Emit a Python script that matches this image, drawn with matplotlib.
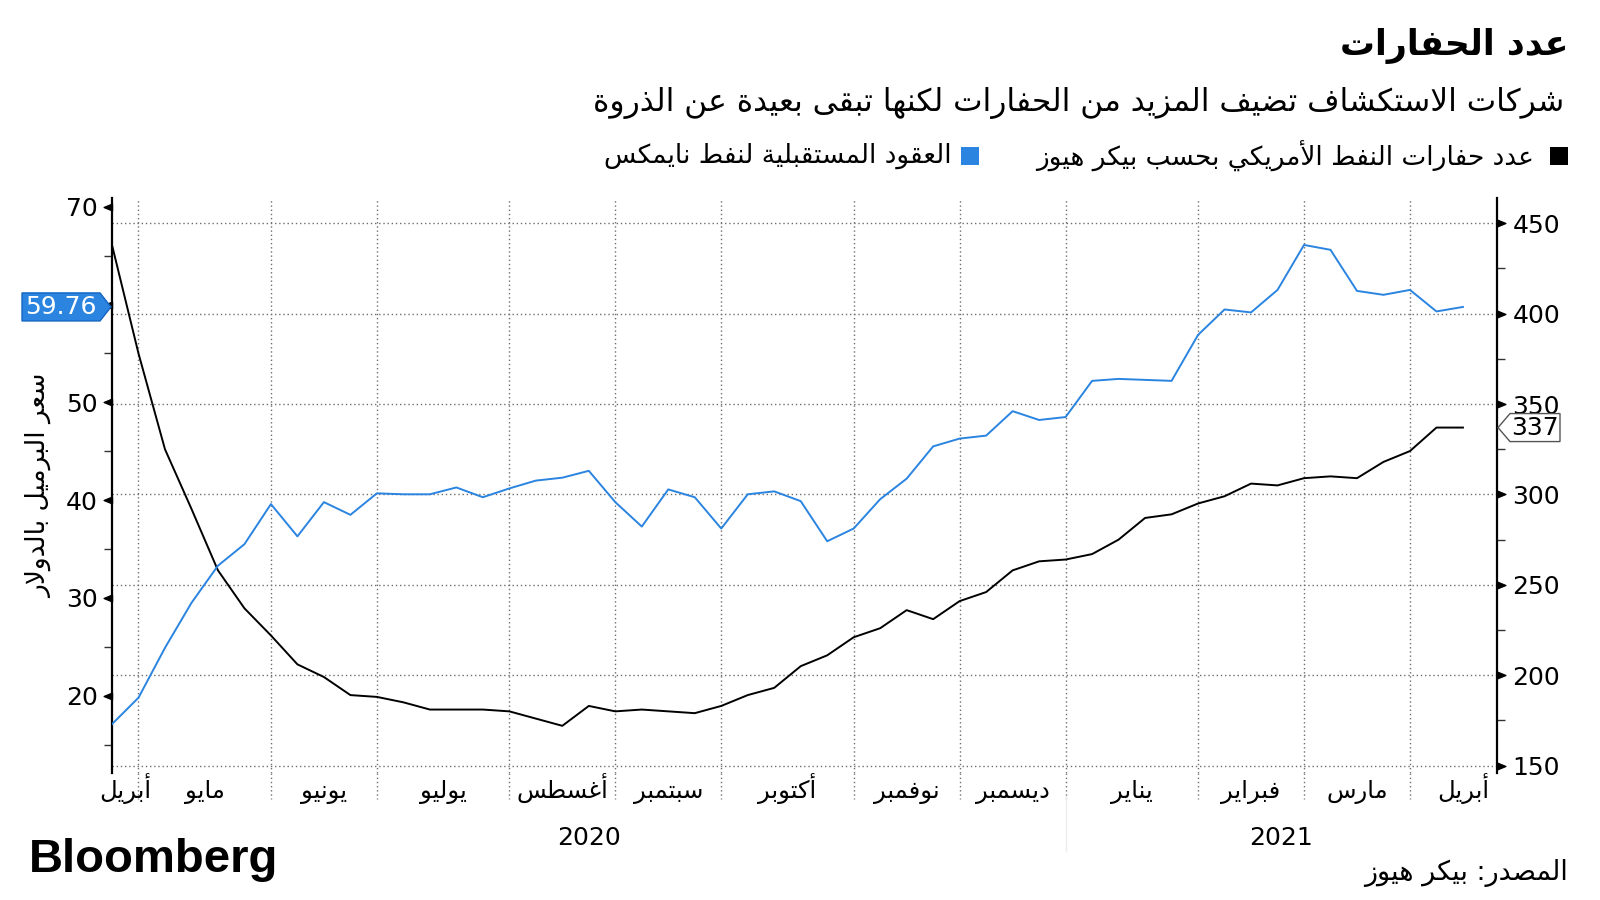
import numpy as np
import pandas as pd
import matplotlib
matplotlib.use('Agg')
import matplotlib.pyplot as plt
from matplotlib.patches import Polygon, Rectangle
from matplotlib.path import Path
from matplotlib.transforms import IdentityTransform, blended_transform_factory

# ---- minimal arabic shaping (presentation forms + reversed for display) ----
AR = {'ء': [0xFE80]}
for ch, b in [('ا', 0xFE8D), ('آ', 0xFE81), ('أ', 0xFE83), ('إ', 0xFE87), ('ؤ', 0xFE85),
              ('د', 0xFEA9), ('ذ', 0xFEAB), ('ر', 0xFEAD), ('ز', 0xFEAF), ('و', 0xFEED),
              ('ة', 0xFE93), ('ى', 0xFEEF)]:
    AR[ch] = [b, b + 1]
for ch, b in [('ب', 0xFE8F), ('ت', 0xFE95), ('ث', 0xFE99), ('ج', 0xFE9D), ('ح', 0xFEA1),
              ('خ', 0xFEA5), ('س', 0xFEB1), ('ش', 0xFEB5), ('ص', 0xFEB9), ('ض', 0xFEBD),
              ('ط', 0xFEC1), ('ظ', 0xFEC5), ('ع', 0xFEC9), ('غ', 0xFECD), ('ف', 0xFED1),
              ('ق', 0xFED5), ('ك', 0xFED9), ('ل', 0xFEDD), ('م', 0xFEE1), ('ن', 0xFEE5),
              ('ه', 0xFEE9), ('ي', 0xFEF1), ('ئ', 0xFE89)]:
    AR[ch] = [b, b + 1, b + 2, b + 3]
LAM_ALEF = {'آ': 0xFEF5, 'أ': 0xFEF7, 'إ': 0xFEF9, 'ا': 0xFEFB}


def ar(text):
    out = []
    i = 0
    n = len(text)
    while i < n:
        c = text[i]
        if c not in AR:
            out.append(c)
            i += 1
            continue
        prev = text[i - 1] if i > 0 else ''
        nxt = text[i + 1] if i + 1 < n else ''
        lp = prev in AR and len(AR[prev]) == 4
        if c == 'ل' and nxt in LAM_ALEF:
            out.append(chr(LAM_ALEF[nxt] + (1 if lp else 0)))
            i += 2
            continue
        forms = AR[c]
        ln = len(forms) == 4 and nxt in AR and nxt != 'ء'
        if len(forms) == 4:
            k = 3 if (lp and ln) else 1 if lp else 2 if ln else 0
        elif len(forms) == 2:
            k = 1 if lp else 0
        else:
            k = 0
        out.append(chr(forms[k]))
        i += 1
    return ''.join(reversed(out))


# ---- data ----
dates = pd.date_range('2020-04-17', periods=52, freq='W-FRI')
rigs = [438, 378, 325, 292, 258, 237, 222, 206, 199, 189,
        188, 185, 181, 181, 181, 180, 176, 172, 183, 180,
        181, 180, 179, 183, 189, 193, 205, 211, 221, 226,
        236, 231, 241, 246, 258, 263, 264, 267, 275, 287,
        289, 295, 299, 306, 305, 309, 310, 309, 318, 324,
        337, 337]
wti = [17.1, 19.8, 24.9, 29.5, 33.3, 35.5, 39.6, 36.3, 39.8, 38.5,
       40.7, 40.6, 40.6, 41.3, 40.3, 41.2, 42.0, 42.3, 43.0, 39.8,
       37.3, 41.1, 40.3, 37.1, 40.6, 40.9, 39.9, 35.8, 37.1, 40.1,
       42.2, 45.5, 46.3, 46.6, 49.1, 48.2, 48.5, 52.2, 52.4, 52.3,
       52.2, 56.9, 59.5, 59.2, 61.5, 66.1, 65.6, 61.4, 61.0, 61.5,
       59.3, 59.76]
months = ['أبريل', 'مايو', 'يونيو', 'يوليو', 'أغسطس', 'سبتمبر', 'أكتوبر',
          'نوفمبر', 'ديسمبر', 'يناير', 'فبراير', 'مارس', 'أبريل']
years = ['2020', '2021']
left_ticks = [20, 30, 40, 50, 60, 70]
left_labels = ['20', '30', '40', '50', '', '70']   # 60 sits under the price tag
right_ticks = [150, 200, 250, 300, 350, 400, 450]

title = 'عدد الحفارات'
subtitle = 'شركات الاستكشاف تضيف المزيد من الحفارات لكنها تبقى بعيدة عن الذروة'
leg_rigs = 'عدد حفارات النفط الأمريكي بحسب بيكر هيوز'
leg_wti = 'العقود المستقبلية لنفط نايمكس'
ylab = 'سعر البرميل بالدولار'
source = 'المصدر: بيكر هيوز'

BLUE = '#2a84e0'
GRID = '#6e6e6e'

plt.rcParams['font.family'] = ['DejaVu Sans']

fig = plt.figure(figsize=(16, 9), dpi=100)
ax = fig.add_axes([112 / 1600, 1 - 773 / 900, (1497 - 112) / 1600, (773 - 198) / 900])
ax2 = ax.twinx()

# rigs on the base axes (right scale), price on the twin (left scale)
ax.plot(dates, rigs, color='black', lw=1.4, zorder=3)
ax2.plot(dates, wti, color=BLUE, lw=1.4, zorder=3)

ax.set_ylim(145.9, 464)
ax2.set_ylim(12.1, 70.9)
xmin = dates[0]
xmax = dates[-1] + pd.Timedelta(days=9)
ax.set_xlim(xmin, xmax)

# month boundaries: last weekly point in every month
last_in_month = dates.to_series().groupby(dates.to_period('M')).max()
grid_dates = list(last_in_month.iloc[:-1])
bounds = [xmin] + grid_dates + [dates[-1] + pd.Timedelta(days=14)]
mids = [bounds[i] + (bounds[i + 1] - bounds[i]) / 2 for i in range(len(bounds) - 1)]

ax.set_xticks(grid_dates)
ax.set_xticklabels([''] * len(grid_dates))
ax.set_xticks(mids, minor=True)
ax.set_xticklabels([ar(m) for m in months], minor=True, fontsize=17.5)
for lbl in ax.get_xticklabels(minor=True):
    lbl.set_va('baseline')
ax.tick_params(axis='x', which='both', length=0)
ax.tick_params(axis='x', which='minor', pad=18)

ax.yaxis.tick_right()
ax.set_yticks(right_ticks)
ax.set_yticks(np.arange(175, 450, 50), minor=True)
ax.tick_params(axis='y', which='major', length=0, pad=11, labelsize=18)
ax.tick_params(axis='y', which='minor', length=6, width=1, color='#333333')

ax2.yaxis.tick_left()
ax2.set_yticks(left_ticks)
ax2.set_yticklabels(left_labels)
ax2.set_yticks(np.arange(15, 70, 10), minor=True)
ax2.tick_params(axis='y', which='major', length=0, pad=10, labelsize=18)
ax2.tick_params(axis='y', which='minor', length=6, width=1, color='#333333')
ax2.yaxis.set_label_position('left')
ax2.set_ylabel(ar(ylab), fontsize=19)
ax2.yaxis.set_label_coords(-0.043, 0.5)

ax.grid(True, which='major', ls=(0, (1, 2)), color=GRID, lw=1)
ax.set_axisbelow(True)

for s in ['top', 'bottom', 'left']:
    ax.spines[s].set_visible(False)
for s in ['top', 'bottom', 'right']:
    ax2.spines[s].set_visible(False)
ax.spines['right'].set_linewidth(1.6)
ax2.spines['left'].set_linewidth(1.6)

# triangle tick marks
tri_left = Path([(0, 0.45), (0, -0.45), (-1.1, 0), (0, 0.45)])
tri_right = Path([(0, 0.45), (0, -0.45), (1.1, 0), (0, 0.45)])
ax2.plot(np.zeros(len(left_ticks)), left_ticks, ls='none', marker=tri_left, ms=12,
         color='black', transform=blended_transform_factory(ax2.transAxes, ax2.transData),
         clip_on=False, zorder=5)
ax.plot(np.ones(len(right_ticks)), right_ticks, ls='none', marker=tri_right, ms=12,
        color='black', transform=blended_transform_factory(ax.transAxes, ax.transData),
        clip_on=False, zorder=5)

# gridlines run a little below the plot
xtr = ax.get_xaxis_transform()
for d in grid_dates:
    ax.plot([d, d], [0, -0.045], transform=xtr, clip_on=False, ls=(0, (1, 2)), color=GRID, lw=1)

# year labels
year_bounds = [xmin, grid_dates[8], xmax]
for i, yr in enumerate(years):
    xm = year_bounds[i] + (year_bounds[i + 1] - year_bounds[i]) / 2
    ax.text(xm, -0.113, yr, transform=xtr, ha='center', va='center', fontsize=18)
ax.plot([grid_dates[8], grid_dates[8]], [-0.04, -0.135], transform=xtr, clip_on=False,
        color='#ececec', lw=1)

# value tags
fig.canvas.draw()
yb = ax2.transData.transform((0, wti[-1]))[1]
h = 14
fig.patches.append(Polygon([(22, yb - h), (100, yb - h), (111, yb), (100, yb + h), (22, yb + h)],
                           closed=True, transform=IdentityTransform(), facecolor=BLUE,
                           edgecolor='#1565c0', lw=1))
fig.text(61 / 1600, yb / 900, f'{wti[-1]:.2f}', color='white', fontsize=18,
         ha='center', va='center')
yk = ax.transData.transform((0, rigs[-1]))[1]
fig.patches.append(Polygon([(1498, yk), (1510, yk - h), (1560, yk - h), (1560, yk + h), (1510, yk + h)],
                           closed=True, transform=IdentityTransform(), facecolor='white',
                           edgecolor='#555555', lw=1, zorder=5))
fig.text(1535 / 1600, yk / 900, f'{rigs[-1]}', color='black', fontsize=18,
         ha='center', va='center', zorder=6)

# header
fig.text(1568 / 1600, 1 - 46 / 900, ar(title), fontsize=25, fontweight='bold',
         ha='right', va='center')
fig.text(1564 / 1600, 1 - 103 / 900, ar(subtitle), fontsize=22.5, ha='right', va='center')

# legend
ly = 1 - 156 / 900
sq = 18
fig.patches.append(Rectangle((1550, 900 - 156 - sq / 2), sq, sq, transform=IdentityTransform(),
                             facecolor='black'))
t1 = fig.text(1534 / 1600, ly, ar(leg_rigs), fontsize=19, ha='right', va='center')
fig.canvas.draw()
x1 = t1.get_window_extent().x0
bx = x1 - 57 - sq
fig.patches.append(Rectangle((bx, 900 - 156 - sq / 2), sq, sq, transform=IdentityTransform(),
                             facecolor=BLUE))
fig.text((bx - 10) / 1600, ly, ar(leg_wti), fontsize=19, ha='right', va='center')

# footer
fig.text(29 / 1600, 1 - 860 / 900, 'Bloomberg', fontsize=34, fontweight='bold',
         family='Liberation Sans', ha='left', va='center')
fig.text(1568 / 1600, 1 - 873 / 900, ar(source), fontsize=19.5, ha='right', va='center')

fig.savefig('out.png', dpi=100)
